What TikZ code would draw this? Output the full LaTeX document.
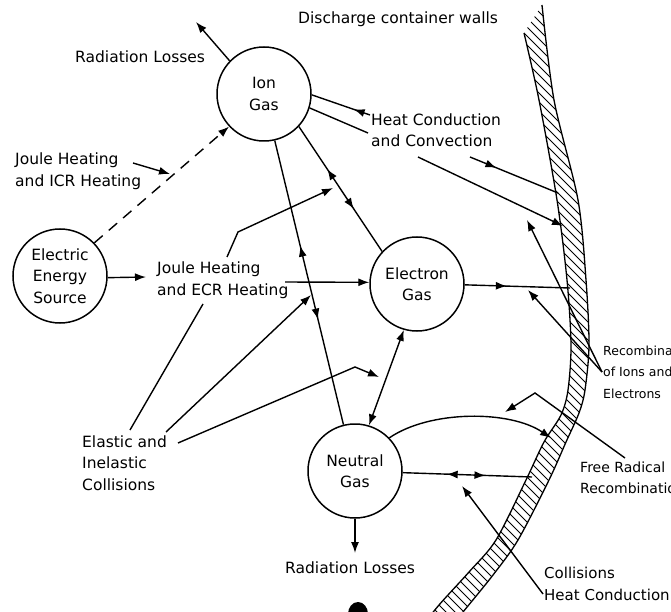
\documentclass[tikz,border=0pt]{standalone}
\usepackage{fontspec}
\setmainfont{DejaVu Sans}
\usetikzlibrary{arrows.meta,decorations.markings}
\newcommand\lblfont{\fontsize{15.5}{21.5}\selectfont}
\tikzset{
  lbl/.style={inner sep=0pt, align=left, anchor=west, font=\lblfont},
  gas/.style={circle, draw, line width=1.5pt, minimum size=94pt, inner sep=0pt, align=center, font=\lblfont},
  conn/.style={line width=1.4pt},
  tip/.style={-{Latex[length=11pt,width=8pt]}},
  twomid/.style n args={2}{postaction={decorate}, decoration={markings,
     mark=at position #1 with {\arrowreversed{Latex[length=11pt,width=8pt]}},
     mark=at position #2 with {\arrow{Latex[length=11pt,width=8pt]}}}},
  onemid/.style={postaction={decorate}, decoration={markings,
     mark=at position #1 with {\arrow{Latex[length=11pt,width=8pt]}}}},
  onemidback/.style={postaction={decorate}, decoration={markings,
     mark=at position #1 with {\arrowreversed{Latex[length=11pt,width=8pt]}}}},
}
\begin{document}
\begin{tikzpicture}[x=1pt,y=-1pt]
\useasboundingbox (0,0) rectangle (671,612);
\clip (0,0) rectangle (671,612);

% container wall
\begin{scope}
\clip plot[smooth] coordinates {(542,5) (554,100) (578,200) (586,280) (589,345) (585,390) (579,413) (566,442) (549,480) (518,540) (493,575) (463,612) (440,640)}
 --plot[smooth] coordinates {(415,635) (439,605) (469,572) (496,540) (526,480) (544,442) (561,415) (568,390) (571,345) (567,280) (557,200) (539,100) (524,33)} -- cycle;
\foreach \c in {-220,-211,...,620} \draw[line width=1pt] (\c,0) -- ++(700,700);
\end{scope}
\draw[line width=1.3pt] plot[smooth] coordinates {(542,5) (554,100) (578,200) (586,280) (589,345) (585,390) (579,413) (566,442) (549,480) (518,540) (493,575) (463,612) (440,640)};
\draw[line width=1.3pt] plot[smooth] coordinates {(415,635) (439,605) (469,572) (496,540) (526,480) (544,442) (561,415) (568,390) (571,345) (567,280) (557,200) (539,100) (524,33)};

% gas circles
\node[gas] (ion) at (264,94) {Ion\\Gas};
\node[gas] (src) at (60,276) {Electric\\Energy\\Source};
\node[gas] (ele) at (417,284) {Electron\\Gas};
\node[gas] (neu) at (355,471) {Neutral\\Gas};

% labels
\node[lbl] (disc) at (298,19) {Discharge container walls};
\node[lbl] (radtop) at (75,57) {Radiation Losses};
\node[lbl] (heat) at (371,130) {Heat Conduction\\and Convection};
\node[lbl] (icr) at (15,171) {Joule Heating\\and ICR Heating};
\node[lbl] (ecr) at (157,280) {Joule Heating\\and ECR Heating};
\node[lbl] (elast) at (82,463) {Elastic and\\Inelastic\\Collisions};
\node[lbl, font=\fontsize{12.5}{21.5}\selectfont] (recomb) at (603,372) {Recombination\\of Ions and\\Electrons};
\node[lbl, font=\fontsize{14}{21.5}\selectfont] (free) at (580,478) {Free Radical\\Recombination};
\node[lbl] (radbot) at (285,568) {Radiation Losses};
\node[lbl, font=\fontsize{15}{21.5}\selectfont] (coll) at (544,584) {Collisions\\Heat Conduction};

% free ends
\coordinate (radtopTip) at (196,22);
\coordinate (icrA) at (133,163);
\coordinate (icrB) at (170,174);
\coordinate (ecrIn) at (146,277);
\coordinate (ecrA) at (227,257);
\coordinate (ecrK) at (238,232);
\coordinate (ecrB) at (333,188);
\coordinate (ecrC) at (285,282);
\coordinate (heatA) at (370,115);
\coordinate (heatB) at (368,133);
\coordinate (convA) at (418,157);
\coordinate (wallB) at (563,226);
\coordinate (convC) at (470,157);
\coordinate (wallC) at (558,193);
\coordinate (wallE) at (570,288);
\coordinate (recA) at (602,372);
\coordinate (recT1) at (527,220);
\coordinate (recT2) at (528,290);
\coordinate (elA) at (130,430);
\coordinate (elAe) at (203,304);
\coordinate (elB) at (166,432);
\coordinate (elBe) at (311,295);
\coordinate (elC) at (178,443);
\coordinate (elCk) at (355,367);
\coordinate (elCe) at (379,377);
\coordinate (wallN1) at (551,438);
\coordinate (freeA) at (625,458);
\coordinate (freeK) at (535,393);
\coordinate (freeT) at (505,412);
\coordinate (wallN2) at (532,477);
\coordinate (collA) at (543,594);
\coordinate (collT) at (462,486);
\coordinate (radbotTip) at (355,553);

% connectors
\draw[conn,tip] (ion.136) -- (radtopTip);
\draw[conn,tip,dash pattern=on 11pt off 8pt] (src.44) -- (ion.223);
\draw[conn,tip] (icrA) -- (icrB);
\draw[conn,tip] (src.-2) -- (ecrIn);
\draw[conn,tip] (ecrA) -- (ecrK) -- (ecrB);
\draw[conn,tip] (ecrC) -- (ele.178);
\draw[conn,twomid={0.34}{0.66}] (ion.-43) -- (ele.137);
\draw[conn,twomid={0.37}{0.63}] (ion.-77) -- (neu.104);
\draw[conn,onemidback=0.72] (ion.-1) -- (heatA);
\draw[conn] (ion.-17) -- (heatB);
\draw[conn,tip] (convA) -- (wallB);
\draw[conn,onemid=0.3] (convC) -- (wallC);
\draw[conn,onemid=0.4] (ele.-1) -- (wallE);
\draw[conn,tip] (recA) -- (recT1);
\draw[conn,tip] (recA) -- (recT2);
\draw[conn] (elA) -- (elAe);
\draw[conn,tip] (elB) -- (elBe);
\draw[conn,tip] (elC) -- (elCk) -- (elCe);
\draw[conn,{Latex[length=11pt,width=8pt]}-{Latex[length=11pt,width=8pt]}] (ele.254) -- (neu.73);
\draw[conn,tip] (neu.44) .. controls (430,410) and (510,410) .. (wallN1);
\draw[conn,tip] (freeA) -- (freeK) -- (freeT);
\draw[conn,twomid={0.34}{0.64}] (neu.-2) -- (wallN2);
\draw[conn,tip] (collA) -- (collT);
\draw[conn,tip] (neu.south) -- (radbotTip);

% ink blot
\fill (358,614) ellipse [x radius=10pt, y radius=12pt];
\end{tikzpicture}
\end{document}
